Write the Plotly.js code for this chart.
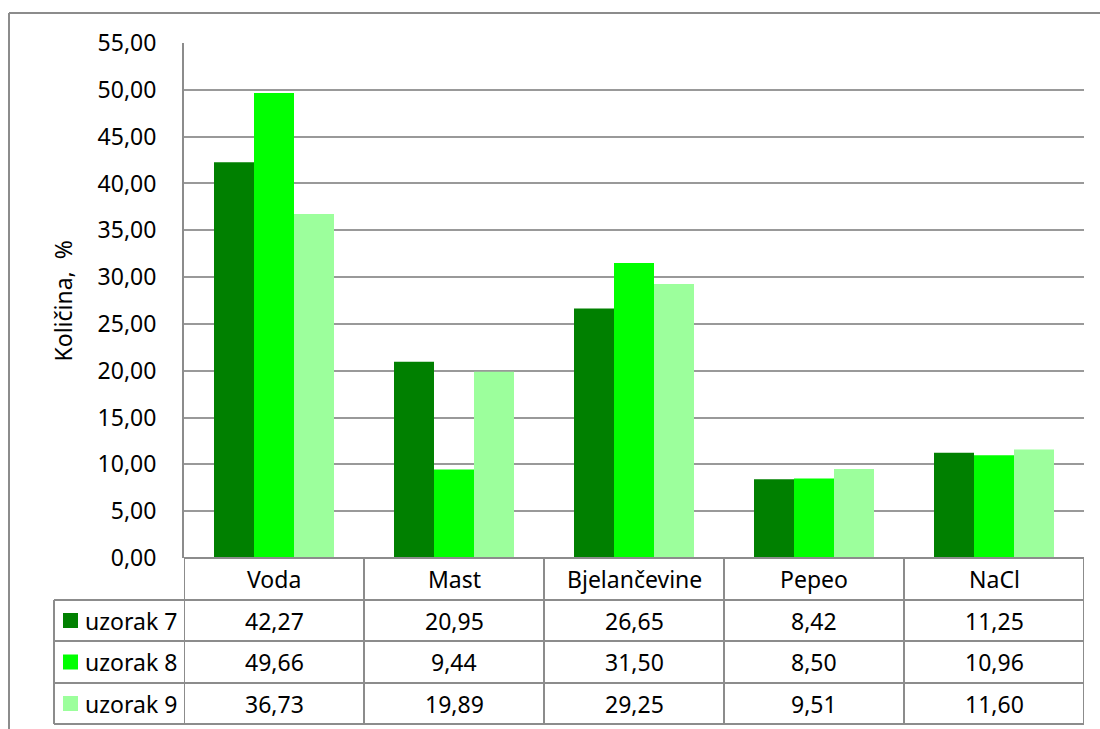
<!DOCTYPE html>
<html><head><meta charset="utf-8">
<script src="https://cdn.plot.ly/plotly-3.0.1.min.js"></script>
<style>html,body{margin:0;padding:0;background:#fff}</style>
</head><body><div id="chart" style="width:1100px;height:729px"></div>
<script>
// ---- data ----
const categories = ['Voda', 'Mast', 'Bjelančevine', 'Pepeo', 'NaCl'];
const seriesNames = ['uzorak 7', 'uzorak 8', 'uzorak 9'];
const uzorak7 = [42.27, 20.95, 26.65, 8.42, 11.25];
const uzorak8 = [49.66, 9.44, 31.50, 8.50, 10.96];
const uzorak9 = [36.73, 19.89, 29.25, 9.51, 11.60];
const yTickVals = [0, 5, 10, 15, 20, 25, 30, 35, 40, 45, 50, 55];
const yTitle = 'Količina,  %';

const seriesValues = [uzorak7, uzorak8, uzorak9];
const seriesColors = ['#008000', '#00ff00', '#9cff9c'];

// ---- geometry (pixels) ----
const W = 1100, H = 729;
const L = 184, R = 1084, T = 43, B = 558;
const FONT = 'Noto Sans, sans-serif';
const FS = 23;
const px = v => (v - L) / (R - L);
const py = v => (B - v) / (B - T);
const headerBottom = 600;
const rowLines = [600, 641, 683, 724];
const tableLeft = 54;
const gridCol = '#8c8c8c';

const fmt = v => v.toFixed(2).replace('.', ',');

const traces = seriesValues.map((vals, i) => ({
  type: 'bar', x: categories, y: vals, name: seriesNames[i],
  marker: {color: seriesColors[i], line: {width: 0}},
  hoverinfo: 'skip'
}));

const shapes = [];
const line = (xref, x0, x1, y0, y1, w) => shapes.push({
  type: 'line', xref: xref, yref: 'paper', x0: x0, x1: x1, y0: y0, y1: y1,
  line: {color: gridCol, width: w || 2}, layer: 'above'
});
// outer chart border
line('paper', px(9), px(1101), py(13), py(13));
line('paper', px(9), px(9), py(13), py(730));
// table top (axis baseline)
line('paper', px(L), px(R), py(B), py(B));
// table horizontal lines
rowLines.forEach(y => line('paper', px(tableLeft), px(R), py(y), py(y)));
// category column lines
for (let k = 0; k <= categories.length; k++) {
  line('x', k - 0.5, k - 0.5, py(B), py(rowLines[rowLines.length - 1]));
}
// row-label column left edge
line('paper', px(tableLeft), px(tableLeft), py(rowLines[0]), py(rowLines[rowLines.length - 1]));

const annotations = [];
const txt = (o) => annotations.push(Object.assign({
  showarrow: false, font: {family: FONT, size: FS, color: '#000'},
  yref: 'paper', yanchor: 'middle'
}, o));
// header row
categories.forEach(c => txt({xref: 'x', x: c, y: py((B + headerBottom) / 2), text: c, xanchor: 'center'}));
// data rows
seriesValues.forEach((vals, i) => {
  const yc = py((rowLines[i] + rowLines[i + 1]) / 2);
  vals.forEach((v, j) => txt({xref: 'x', x: categories[j], y: yc, text: fmt(v), xanchor: 'center'}));
  txt({xref: 'paper', x: px(83), y: yc, text: seriesNames[i], xanchor: 'left'});
  shapes.push({type: 'rect', xref: 'paper', yref: 'paper',
    x0: px(63), x1: px(78), y0: yc - 7.5 / (B - T), y1: yc + 7.5 / (B - T),
    fillcolor: seriesColors[i], line: {width: 0}, layer: 'above'});
});
// y-axis title
txt({xref: 'paper', x: px(62), y: py((T + B) / 2), text: yTitle, textangle: -90, xanchor: 'center'});

const layout = {
  width: W, height: H,
  margin: {l: L, r: W - R, t: T, b: H - B, pad: 0},
  paper_bgcolor: '#fff', plot_bgcolor: '#fff',
  separators: ',.',
  barmode: 'group', bargap: 0.3333, bargroupgap: 0,
  showlegend: false,
  font: {family: FONT, size: FS, color: '#000'},
  xaxis: {type: 'category', range: [-0.5, categories.length - 0.5],
    showticklabels: false, showgrid: false, zeroline: false, showline: false, ticks: ''},
  yaxis: {range: [0, 55], tickvals: yTickVals, tickformat: '.2f',
    showgrid: true, gridcolor: '#999', gridwidth: 2,
    zeroline: false, showline: true, linecolor: gridCol, linewidth: 2,
    ticks: '', ticklabelstandoff: 21,
    tickfont: {family: FONT, size: FS, color: '#000'}},
  shapes: shapes, annotations: annotations
};

Plotly.newPlot('chart', traces, layout, {staticPlot: true, displayModeBar: false});
</script>
</body></html>
